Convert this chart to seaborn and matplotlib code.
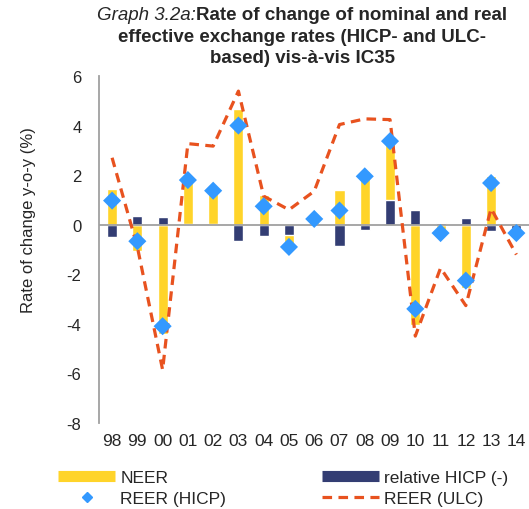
import matplotlib
matplotlib.use("Agg")
import matplotlib.pyplot as plt
import numpy as np
import pandas as pd
import seaborn as sns
from matplotlib.lines import Line2D

# data
years = ['98', '99', '00', '01', '02', '03', '04', '05', '06',
         '07', '08', '09', '10', '11', '12', '13', '14']
neer = [1.45, -1.05, -4.4, 1.75, 1.35, 4.65, 1.2, -0.45, 0.22,
        1.4, 2.15, 2.35, -4.05, -0.4, -2.55, 1.95, 0.06]
rel_hicp = [-0.5, 0.35, 0.3, 0.03, 0.02, -0.67, -0.47, -0.4, 0.02,
            -0.85, -0.22, 1.01, 0.61, 0.07, 0.25, -0.24, -0.3]
reer_hicp = [0.97, -0.67, -4.1, 1.8, 1.37, 4.0, 0.74, -0.9, 0.23,
             0.57, 1.95, 3.37, -3.4, -0.34, -2.26, 1.68, -0.34]
reer_ulc = [2.7, -0.9, -5.86, 3.27, 3.17, 5.39, 1.15, 0.6, 1.35,
            4.04, 4.27, 4.24, -4.5, -1.75, -3.27, 0.65, -1.21]

yellow = '#FFD42A'
navy = '#333D73'
blue = '#3399FF'
orange = '#E8521F'

df = pd.DataFrame({'year': years, 'neer': neer, 'hicp': rel_hicp,
                   'reer_hicp': reer_hicp, 'reer_ulc': reer_ulc})
df['pos'] = np.arange(len(df))
# stacked like Excel: relative HICP sits on the axis, NEER stacks on it when same sign
same = np.sign(df['neer']) == np.sign(df['hicp'])
df['neer_top'] = np.where(same, df['neer'] + df['hicp'], df['neer'])

sns.set_style("white")
plt.rcParams['font.family'] = ['Liberation Sans', 'DejaVu Sans']
plt.rcParams['axes.unicode_minus'] = False

fig = plt.figure(figsize=(5.29, 5.10), dpi=100)
ax = fig.add_axes([0.188, 0.169, 0.812, 0.680])

sns.barplot(data=df, x='year', y='neer_top', color=yellow, width=0.4,
            saturation=1, ax=ax, zorder=2)
sns.barplot(data=df, x='year', y='hicp', color=navy, width=0.4,
            saturation=1, ax=ax, zorder=3)
ax.axhline(0, color='#A0A0A0', lw=1.3, zorder=4)
sns.lineplot(data=df, x='pos', y='reer_ulc', color=orange, lw=2.3,
             ax=ax, zorder=5)
ax.lines[-1].set_dashes((3, 2))
sns.scatterplot(data=df, x='pos', y='reer_hicp', marker='D', color=blue,
                s=85, edgecolor='none', ax=ax, zorder=6)

ax.set_xlim(-0.5, 16.5)
ax.set_ylim(-8, 6)
ax.set_yticks(range(-8, 7, 2))
ax.set_xticks(range(len(years)))
ax.set_xticklabels(years)
ax.set_xlabel('')
ax.set_ylabel('Rate of change y-o-y (%)', fontsize=12)
ax.yaxis.set_label_coords(-0.147, 0.588)
for s in ['top', 'right', 'bottom']:
    ax.spines[s].set_visible(False)
ax.spines['left'].set_color('#A0A0A0')
ax.spines['left'].set_linewidth(1.3)
ax.tick_params(axis='y', length=3, color='#A0A0A0', pad=10, labelsize=12)
ax.tick_params(axis='x', length=0, pad=7, labelsize=12.5)

# title with italic prefix
cx = 302 / 529
fs = 13.5
t1 = fig.text(0, 0, 'Graph 3.2a:', style='italic', fontsize=fs, va='center')
t2 = fig.text(0, 0, 'Rate of change of nominal and real', fontweight='bold',
              fontsize=fs, va='center')
r = fig.canvas.get_renderer()
w1 = t1.get_window_extent(r).width / fig.bbox.width
w2 = t2.get_window_extent(r).width / fig.bbox.width
y1 = 1 - 15 / 510
t1.set_position((cx - (w1 + w2) / 2, y1))
t2.set_position((cx - (w1 + w2) / 2 + w1, y1))
fig.text(cx, 1 - 37 / 510, 'effective exchange rates (HICP- and ULC-',
         fontweight='bold', fontsize=fs, ha='center', va='center')
fig.text(cx, 1 - 58.5 / 510, 'based) vis-à-vis IC35',
         fontweight='bold', fontsize=fs, ha='center', va='center')

handles = [
    Line2D([], [], color=yellow, lw=8, solid_capstyle='butt'),
    Line2D([], [], color=blue, marker='D', ls='none', markersize=5),
    Line2D([], [], color=navy, lw=8, solid_capstyle='butt'),
    Line2D([], [], color=orange, lw=2.3, dashes=(3, 2)),
]
labels = ['NEER', 'REER (HICP)', 'relative HICP (-)', 'REER (ULC)']
fig.legend(handles, labels, ncol=2, loc='upper left',
           bbox_to_anchor=(58 / 529, 1 - 471 / 510), frameon=False,
           fontsize=12.5, handlelength=3.3, handletextpad=0.3,
           columnspacing=5.5, labelspacing=0.35, borderpad=0,
           borderaxespad=0)

fig.savefig('out.png', dpi=100)
